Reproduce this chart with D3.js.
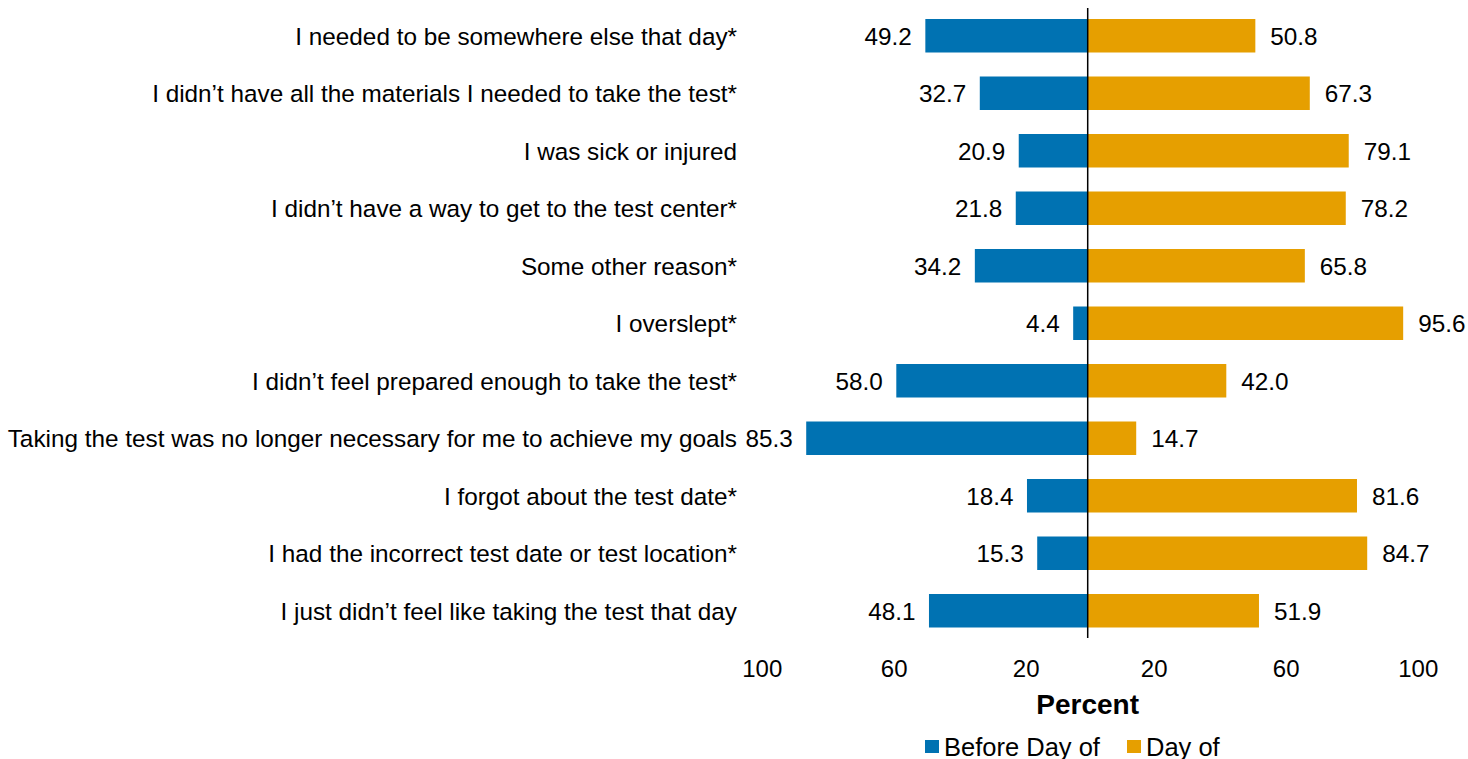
<!DOCTYPE html>
<html><head><meta charset="utf-8">
<script src="https://cdn.jsdelivr.net/npm/d3@7"></script>
<style>body{margin:0;background:#fff}svg{display:block}text{font-family:"Liberation Sans",Arial,sans-serif;fill:#000}</style>
</head><body>
<svg id="c" width="1468" height="759"></svg>
<script>
const categories = [
  "I needed to be somewhere else that day*",
  "I didn\u2019t have all the materials I needed to take the test*",
  "I was sick or injured",
  "I didn\u2019t have a way to get to the test center*",
  "Some other reason*",
  "I overslept*",
  "I didn\u2019t feel prepared enough to take the test*",
  "Taking the test was no longer necessary for me to achieve my goals",
  "I forgot about the test date*",
  "I had the incorrect test date or test location*",
  "I just didn\u2019t feel like taking the test that day"
];
const beforeDayOf = [49.2, 32.7, 20.9, 21.8, 34.2, 4.4, 58.0, 85.3, 18.4, 15.3, 48.1];
const dayOf = [50.8, 67.3, 79.1, 78.2, 65.8, 95.6, 42.0, 14.7, 81.6, 84.7, 51.9];
const tickValues = [-100, -60, -20, 20, 60, 100];
const seriesNames = ["Before Day of", "Day of"];
const colors = ["#0072B2", "#E69F00"];

const svg = d3.select("#c");
const x = d3.scaleLinear().domain([-100, 100]).range([757.7, 1417.7]);
const y = d3.scaleBand().domain(categories).range([7.5, 639]).paddingInner(0.4174).paddingOuter(0.2);
const FONT = 24.3;

const g = svg.append("g");
g.selectAll("rect.b").data(categories).join("rect")
  .attr("x", (d,i) => x(-beforeDayOf[i])).attr("y", d => y(d))
  .attr("width", (d,i) => x(0) - x(-beforeDayOf[i])).attr("height", y.bandwidth())
  .attr("fill", colors[0]);
g.selectAll("rect.d").data(categories).join("rect")
  .attr("x", x(0)).attr("y", d => y(d))
  .attr("width", (d,i) => x(dayOf[i]) - x(0)).attr("height", y.bandwidth())
  .attr("fill", colors[1]);
g.selectAll("text.vb").data(categories).join("text")
  .attr("x", (d,i) => x(-beforeDayOf[i]) - 13.5).attr("y", d => y(d) + y.bandwidth()/2 + 8.8)
  .attr("text-anchor", "end").attr("font-size", FONT)
  .text((d,i) => beforeDayOf[i].toFixed(1));
g.selectAll("text.vd").data(categories).join("text")
  .attr("x", (d,i) => x(dayOf[i]) + 15).attr("y", d => y(d) + y.bandwidth()/2 + 8.8)
  .attr("text-anchor", "start").attr("font-size", FONT)
  .text((d,i) => dayOf[i].toFixed(1));
g.selectAll("text.cat").data(categories).join("text")
  .attr("x", 737).attr("y", d => y(d) + y.bandwidth()/2 + 8.8)
  .attr("text-anchor", "end").attr("font-size", FONT)
  .text(d => d);
g.append("line").attr("x1", x(0)).attr("x2", x(0)).attr("y1", 8).attr("y2", 638)
  .attr("stroke", "#000").attr("stroke-width", 1.5);
const ax = svg.append("g").attr("transform", "translate(0,677)")
  .call(d3.axisBottom(x).tickValues(tickValues).tickSize(0).tickFormat(d => Math.abs(d)));
ax.select(".domain").remove();
ax.selectAll("text").attr("font-size", 24).attr("dy", 0).attr("y", 0)
  .attr("dx", d => d < 0 ? 4 : 0)
  .style("font-family", '"Liberation Sans",Arial,sans-serif');
svg.append("text").attr("x", x(0)).attr("y", 714)
  .attr("text-anchor", "middle").attr("font-size", 28).attr("font-weight", "bold").text("Percent");
const lg = svg.append("g");
const legX = [925, 1127];
seriesNames.forEach((n, i) => {
  lg.append("rect").attr("x", legX[i]).attr("y", 740).attr("width", 14).attr("height", 13).attr("fill", colors[i]);
  lg.append("text").attr("x", legX[i] + 19).attr("y", 755.5).attr("font-size", 25.5).text(n);
});
</script>
</body></html>
